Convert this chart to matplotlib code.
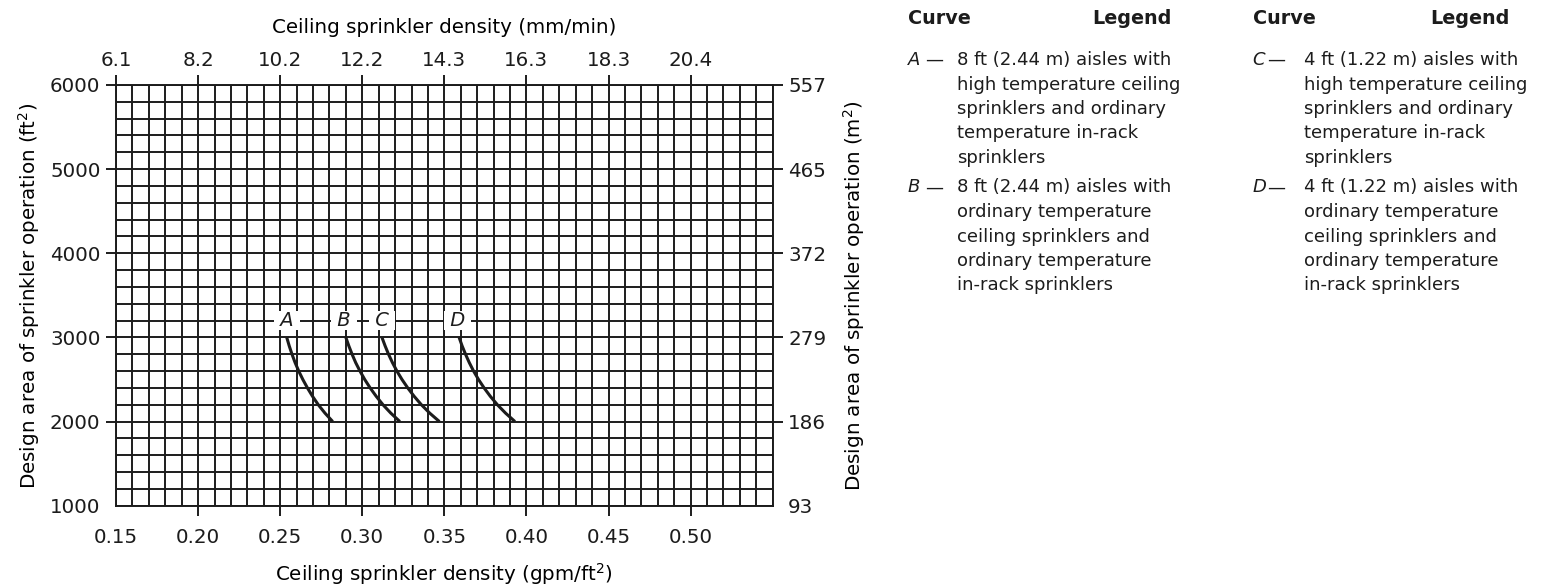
import matplotlib
matplotlib.use("Agg")
import matplotlib.pyplot as plt
from matplotlib.ticker import MultipleLocator

W, H = 1544, 586
INK = "#1c1c1c"

# bottom axis (gpm/ft2) and the matching top axis labels (mm/min)
gpm_ticks = [0.15, 0.20, 0.25, 0.30, 0.35, 0.40, 0.45, 0.50]
mm_labels = ["6.1", "8.2", "10.2", "12.2", "14.3", "16.3", "18.3", "20.4"]
# left axis (ft2) and the matching right axis labels (m2)
ft2_ticks = [1000, 2000, 3000, 4000, 5000, 6000]
m2_labels = ["93", "186", "279", "372", "465", "557"]

# curves: design area (ft2) vs density (gpm/ft2)
curve_area = [3000, 2900, 2800, 2700, 2600, 2500, 2400, 2300, 2200, 2100, 2000]
curve_A = [0.2540, 0.2555, 0.2572, 0.2591, 0.2613, 0.2638, 0.2666, 0.2697, 0.2732, 0.2773, 0.2820]
curve_B = [0.2900, 0.2918, 0.2938, 0.2960, 0.2986, 0.3015, 0.3048, 0.3085, 0.3126, 0.3174, 0.3229]
curve_C = [0.3120, 0.3139, 0.3160, 0.3184, 0.3211, 0.3242, 0.3277, 0.3316, 0.3360, 0.3411, 0.3470]
curve_D = [0.3590, 0.3608, 0.3629, 0.3652, 0.3678, 0.3708, 0.3742, 0.3780, 0.3823, 0.3873, 0.3930]
curve_names = ["A", "B", "C", "D"]
label_x = [0.254, 0.289, 0.312, 0.358]
label_area = 3200

legend_left = [
    ("A", ["8 ft (2.44 m) aisles with", "high temperature ceiling",
           "sprinklers and ordinary", "temperature in-rack", "sprinklers"]),
    ("B", ["8 ft (2.44 m) aisles with", "ordinary temperature",
           "ceiling sprinklers and", "ordinary temperature", "in-rack sprinklers"]),
]
legend_right = [
    ("C", ["4 ft (1.22 m) aisles with", "high temperature ceiling",
           "sprinklers and ordinary", "temperature in-rack", "sprinklers"]),
    ("D", ["4 ft (1.22 m) aisles with", "ordinary temperature",
           "ceiling sprinklers and", "ordinary temperature", "in-rack sprinklers"]),
]


def fx(px):
    return px / W


def fy(py):
    return 1 - py / H


plt.rcParams["font.family"] = ["DejaVu Sans"]
plt.rcParams["text.color"] = INK

fig = plt.figure(figsize=(W / 100, H / 100), dpi=100)
ax = fig.add_axes([fx(116), fy(505.7), fx(772.7) - fx(116), fy(85) - fy(505.7)])

for xs in (curve_A, curve_B, curve_C, curve_D):
    ax.plot(xs, curve_area, color=INK, lw=2.2, solid_capstyle="butt",
            solid_joinstyle="round", zorder=2)

for name, lx in zip(curve_names, label_x):
    ax.text(lx, label_area, f" {name} ", style="italic", fontsize=14,
            ha="center", va="center", zorder=3,
            bbox=dict(boxstyle="square,pad=0", fc="white", ec="none"))

ax.set_xlim(0.15, 0.55)
ax.set_ylim(1000, 6000)
ax.set_xticks(gpm_ticks, labels=[f"{t:.2f}" for t in gpm_ticks])
ax.set_yticks(ft2_ticks, labels=[str(t) for t in ft2_ticks])
ax.xaxis.set_minor_locator(MultipleLocator(0.01))
ax.yaxis.set_minor_locator(MultipleLocator(200))
ax.set_axisbelow(True)
ax.grid(which="both", color=INK, lw=1.4)
for s in ax.spines.values():
    s.set_color(INK)
    s.set_linewidth(1.4)

ax.tick_params(which="minor", length=0)
ax.tick_params(axis="x", which="major", length=7.5, width=1.4, color=INK,
               labelsize=14.3, pad=8.5, labelcolor=INK)
ax.tick_params(axis="y", which="major", length=7.5, width=1.4, color=INK,
               labelsize=14.3, pad=3.6, labelcolor=INK)

top = ax.secondary_xaxis("top")
top.set_xticks(gpm_ticks, labels=mm_labels)
top.tick_params(length=7.5, width=1.4, color=INK, labelsize=14.3, pad=3.5,
                labelcolor=INK)
top.spines["top"].set_visible(False)

right = ax.secondary_yaxis("right")
right.set_yticks(ft2_ticks, labels=m2_labels)
right.tick_params(length=7.5, width=1.4, color=INK, labelsize=14.3, pad=3.6,
                  labelcolor=INK)
right.spines["right"].set_visible(False)

# no tick marks at the bottom corners
for axis in (ax.xaxis, ax.yaxis, right.yaxis):
    t0 = axis.get_major_ticks()[0]
    t0.tick1line.set_visible(False)
    t0.tick2line.set_visible(False)

ax.set_xlabel("Ceiling sprinkler density (gpm/ft$^2$)", fontsize=14.3, labelpad=10)
top.set_xlabel("Ceiling sprinkler density (mm/min)", fontsize=14.3, labelpad=13)
ax.set_ylabel("Design area of sprinkler operation (ft$^2$)", fontsize=14.3, labelpad=6)
right.set_ylabel("Design area of sprinkler operation (m$^2$)", fontsize=14.3,
                 labelpad=11)

# two-column curve legend on the right
for x_curve, x_dash, x_body, x_end, entries in (
        (908, 925, 956.7, 1172, legend_left),
        (1252.7, 1267, 1304, 1510, legend_right)):
    fig.text(fx(x_curve), fy(18), "Curve", fontsize=13.8, weight="bold",
             ha="left", va="center")
    fig.text(fx(x_end), fy(18), "Legend", fontsize=13.8, weight="bold",
             ha="right", va="center")
    y0 = 60
    for letter, lines in entries:
        fig.text(fx(x_curve), fy(y0), letter, fontsize=13, style="italic",
                 ha="left", va="center")
        fig.text(fx(x_dash), fy(y0), "\u2014", fontsize=13, ha="left", va="center")
        for i, line in enumerate(lines):
            fig.text(fx(x_body), fy(y0 + i * 24.5), line, fontsize=13,
                     ha="left", va="center")
        y0 += 5 * 24.5 + 5

fig.savefig("out.png", dpi=100)
